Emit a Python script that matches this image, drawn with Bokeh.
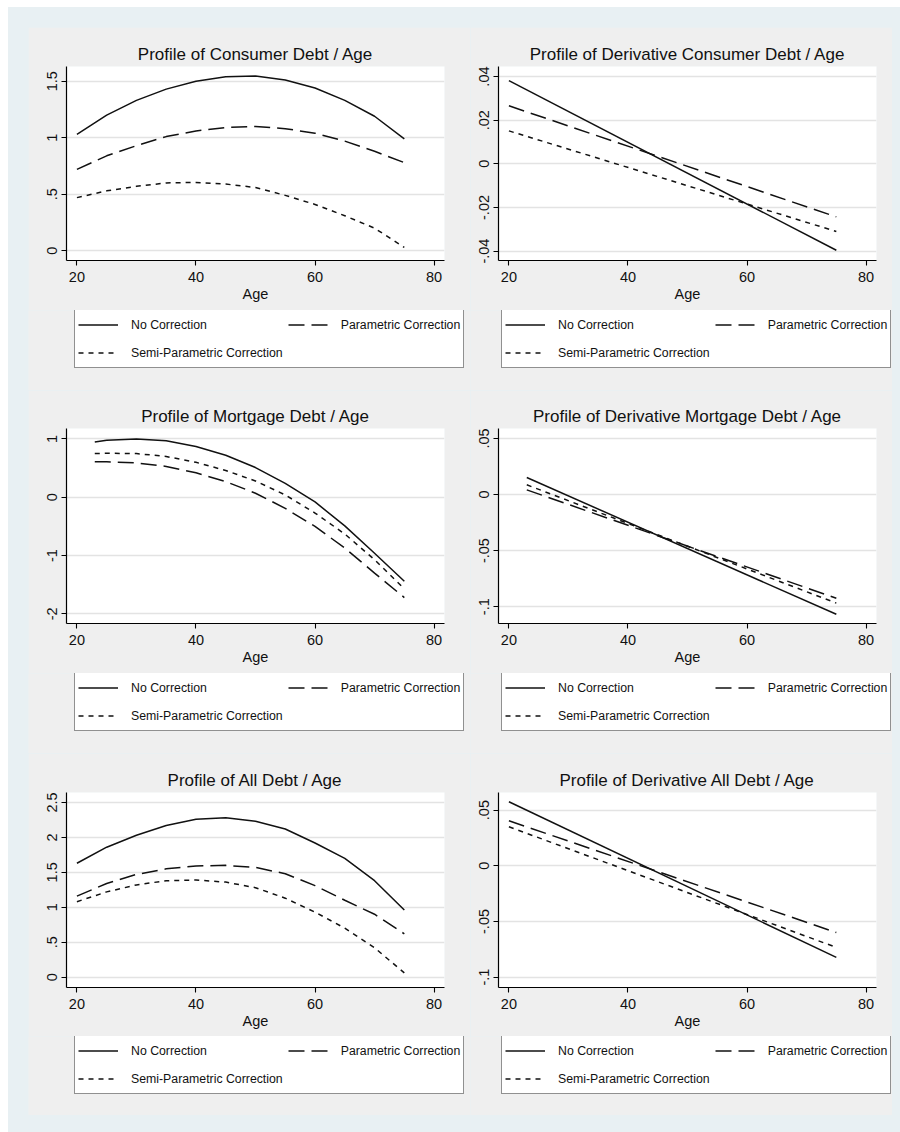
from bokeh.plotting import figure
from bokeh.models import Range1d, FixedTicker, Legend, LegendItem
from bokeh.layouts import column, row
from bokeh.embed import file_html
from bokeh.resources import INLINE

FONT = "Liberation Sans"
OUTER = "#e8f0f3"
INNER = "#efefef"

# ---------------- data ----------------
ages = [20, 25, 30, 35, 40, 45, 50, 55, 60, 65, 70, 75]
ages_mort = [23, 25, 30, 35, 40, 45, 50, 55, 60, 65, 70, 75]
ages_lin = [20, 75]
ages_lin_mort = [23, 75]

consumer_none = [1.03, 1.20, 1.33, 1.43, 1.50, 1.54, 1.545, 1.51, 1.44, 1.33, 1.19, 0.99]
consumer_param = [0.72, 0.84, 0.93, 1.01, 1.06, 1.09, 1.10, 1.08, 1.04, 0.97, 0.88, 0.78]
consumer_semi = [0.47, 0.53, 0.57, 0.60, 0.605, 0.59, 0.56, 0.49, 0.41, 0.31, 0.20, 0.03]

dconsumer_none = [0.0381, -0.0396]
dconsumer_param = [0.0266, -0.0243]
dconsumer_semi = [0.0151, -0.0310]

mortgage_none = [0.95, 0.98, 1.00, 0.97, 0.87, 0.72, 0.51, 0.24, -0.08, -0.49, -0.96, -1.44]
mortgage_param = [0.61, 0.61, 0.59, 0.53, 0.42, 0.27, 0.07, -0.19, -0.50, -0.87, -1.30, -1.72]
mortgage_semi = [0.75, 0.755, 0.75, 0.70, 0.60, 0.46, 0.28, 0.04, -0.27, -0.63, -1.07, -1.57]

dmortgage_none = [0.0152, -0.1068]
dmortgage_param = [0.0042, -0.0925]
dmortgage_semi = [0.0087, -0.0968]

all_none = [1.63, 1.86, 2.03, 2.17, 2.26, 2.28, 2.23, 2.12, 1.92, 1.70, 1.38, 0.96]
all_param = [1.16, 1.34, 1.47, 1.55, 1.59, 1.60, 1.57, 1.48, 1.31, 1.10, 0.90, 0.62]
all_semi = [1.08, 1.22, 1.32, 1.38, 1.39, 1.36, 1.28, 1.13, 0.93, 0.70, 0.42, 0.06]

dall_none = [0.0575, -0.0823]
dall_param = [0.0404, -0.0599]
dall_semi = [0.0350, -0.0733]

x_ticks = [20, 40, 60, 80]
series_labels = ["No Correction", "Parametric Correction", "Semi-Parametric Correction"]

titles = [
    "Profile of Consumer Debt / Age",
    "Profile of Derivative Consumer Debt / Age",
    "Profile of Mortgage Debt / Age",
    "Profile of Derivative Mortgage Debt / Age",
    "Profile of All Debt / Age",
    "Profile of Derivative All Debt / Age",
]

y_ticks = [
    [0, 0.5, 1, 1.5],
    [-0.04, -0.02, 0, 0.02, 0.04],
    [-2, -1, 0, 1],
    [-0.1, -0.05, 0, 0.05],
    [0, 0.5, 1, 1.5, 2, 2.5],
    [-0.1, -0.05, 0, 0.05],
]
y_tick_labels = [
    ["0", ".5", "1", "1.5"],
    ["-.04", "-.02", "0", ".02", ".04"],
    ["-2", "-1", "0", "1"],
    ["-.1", "-.05", "0", ".05"],
    ["0", ".5", "1", "1.5", "2", "2.5"],
    ["-.1", "-.05", "0", ".05"],
]
y_limits = [
    (-0.086, 1.63),
    (-0.0443, 0.0446),
    (-2.165, 1.18),
    (-0.115, 0.0589),
    (-0.149, 2.643),
    (-0.1093, 0.0658),
]

panel_series = [
    (ages, [consumer_none, consumer_param, consumer_semi]),
    (ages_lin, [dconsumer_none, dconsumer_param, dconsumer_semi]),
    (ages_mort, [mortgage_none, mortgage_param, mortgage_semi]),
    (ages_lin_mort, [dmortgage_none, dmortgage_param, dmortgage_semi]),
    (ages, [all_none, all_param, all_semi]),
    (ages_lin, [dall_none, dall_param, dall_semi]),
]

DASHES = ["solid", "16 7", "5 5"]
LINE_COLOR = "#111111"


def make_plot(i, width, bl, br, height, bt, bb):
    xs, ys_list = panel_series[i]
    p = figure(
        width=width, height=height,
        x_range=Range1d(18.25, 81.75), y_range=Range1d(*y_limits[i]),
        output_backend="svg", toolbar_location=None,
        min_border_left=bl, min_border_right=br,
        min_border_top=bt, min_border_bottom=bb,
        background_fill_color="white", border_fill_color=INNER,
        outline_line_color=None, title=titles[i],
    )
    p.title.align = "center"
    p.title.text_font = FONT
    p.title.text_font_size = "17px"
    p.title.text_font_style = "normal"
    p.title.text_color = "#111111"
    p.title.standoff = 6

    p.xgrid.grid_line_color = None
    p.ygrid.grid_line_color = "#e3e3e3"
    p.ygrid.grid_line_width = 1.6
    p.ygrid.ticker = FixedTicker(ticks=y_ticks[i])

    xa = p.xaxis[0]
    xa.ticker = FixedTicker(ticks=x_ticks)
    xa.axis_label = "Age"
    ya = p.yaxis[0]
    ya.ticker = FixedTicker(ticks=y_ticks[i])
    ya.major_label_overrides = {t: l for t, l in zip(y_ticks[i], y_tick_labels[i])}
    ya.major_label_orientation = "vertical"
    for ax in (xa, ya):
        ax.axis_line_color = "black"
        ax.axis_line_width = 1.2
        ax.major_tick_line_color = "black"
        ax.major_tick_line_width = 1.1
        ax.major_tick_out = 5
        ax.major_tick_in = 0
        ax.minor_tick_line_color = None
        ax.major_label_text_font = FONT
        ax.major_label_text_font_size = "14.5px"
        ax.major_label_text_color = "#111111"
        ax.axis_label_text_font = FONT
        ax.axis_label_text_font_size = "14.5px"
        ax.axis_label_text_font_style = "normal"
        ax.axis_label_text_color = "#111111"
        ax.axis_label_standoff = 1
    xa.major_label_standoff = 6
    ya.major_label_standoff = 4

    for ys, dash in zip(ys_list, DASHES):
        p.line(xs, ys, line_color=LINE_COLOR, line_width=1.5, line_dash=dash)
    return p


def make_legend(i, width, height, box_x, box_bottom):
    """A strip below the plot holding the Stata-style legend box."""
    xs, ys_list = panel_series[i]
    lf = figure(
        width=width, height=height,
        x_range=Range1d(0, 1), y_range=Range1d(0, 1),   # series lie outside: only the keys show
        output_backend="svg", toolbar_location=None,
        x_axis_location=None, y_axis_location=None,
        min_border=0, min_border_left=0, min_border_right=0,
        min_border_top=0, min_border_bottom=0,
        background_fill_color=INNER, border_fill_color=INNER,
        outline_line_color=None,
    )
    lf.grid.visible = False
    rends = [lf.line(xs, ys, line_color=LINE_COLOR, line_width=1.5, line_dash=dash)
             for ys, dash in zip(ys_list, DASHES)]
    legend = Legend(
        items=[LegendItem(label=lab, renderers=[r]) for lab, r in zip(series_labels, rends)],
        location=(box_x, box_bottom), orientation="horizontal", ncols=2,
        glyph_width=40, glyph_height=23, label_height=23, label_width=20,
        label_standoff=13, spacing=5, padding=3, margin=0,
        label_text_font=FONT, label_text_font_size="12.3px", label_text_color="#111111",
        border_line_color="#222222", border_line_width=1.3,
        background_fill_color="white", background_fill_alpha=1.0,
    )
    lf.add_layout(legend)
    return row(lf)


LW, RW = 442, 422
PLOT_H = 283
# (top border, bottom border, legend strip height, legend box bottom offset)
row_specs = [(39, 50, 80, 22), (38, 50, 80, 22), (39, 49, 79, 21)]

rows = []
for k, (bt, bb, lh, lb) in enumerate(row_specs):
    left = column(make_plot(2 * k, LW, 38, 26, PLOT_H, bt, bb),
                  make_legend(2 * k, LW, lh, 46, lb))
    right = column(make_plot(2 * k + 1, RW, 28, 16, PLOT_H, bt, bb),
                   make_legend(2 * k + 1, RW, lh, 31, lb))
    rows.append(row(left, right))

grid = column(*rows)
outer = column(grid, styles={"background-color": OUTER,
                             "padding": "20px 8px 17px 20px",
                             "margin": "7px 0px 0px 8px"})

open("out.html", "w").write(file_html(outer, INLINE))
